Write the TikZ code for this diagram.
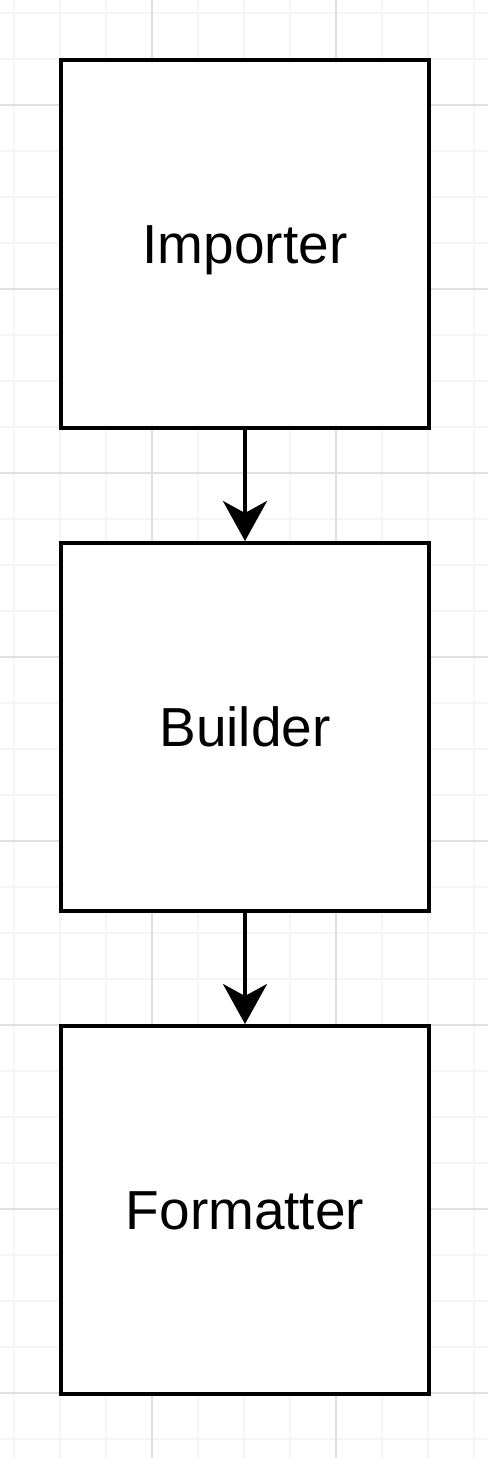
\documentclass[tikz,border=0pt]{standalone}
\usepackage{fontspec}
\setmainfont{Liberation Sans}
\usetikzlibrary{positioning,arrows.meta}
\tikzset{
block/.style={draw, line width=2pt, fill=white, minimum width=184pt, minimum height=184pt, inner sep=0pt, text height=19.7pt, text depth=0pt, font=\fontsize{27.5}{33}\selectfont},
flow/.style={line width=2pt, -{Stealth[length=20pt,width=22pt,inset=6pt]}},
minor line/.style={draw=black!4, line width=1pt},
major line/.style={draw=black!12, line width=1pt}
}

\begin{document}
\begin{tikzpicture}[x=0.5pt,y=-0.5pt]
\fill[white] (0,0) rectangle (488,1458);
\useasboundingbox (0,0) rectangle (488,1458);
% grid
\foreach \i in {0,...,10} \draw[minor line] (13.5+46*\i,0) -- (13.5+46*\i,1458);
\foreach \j in {0,...,31} \draw[minor line] (0,13+46*\j) -- (488,13+46*\j);
\foreach \i in {0,1} \draw[major line] (151.5+184*\i,0) -- (151.5+184*\i,1458);
\foreach \j in {0,...,7} \draw[major line] (0,105+184*\j) -- (488,105+184*\j);
% blocks
\node[block] (importer) at (245,244) {Importer};
\node[block, below=55.5pt of importer] (builder) {Builder};
\node[block, below=55.5pt of builder] (formatter) {Formatter};
\draw[flow] (importer) -- (builder);
\draw[flow] (builder) -- (formatter);
\end{tikzpicture}
\end{document}
